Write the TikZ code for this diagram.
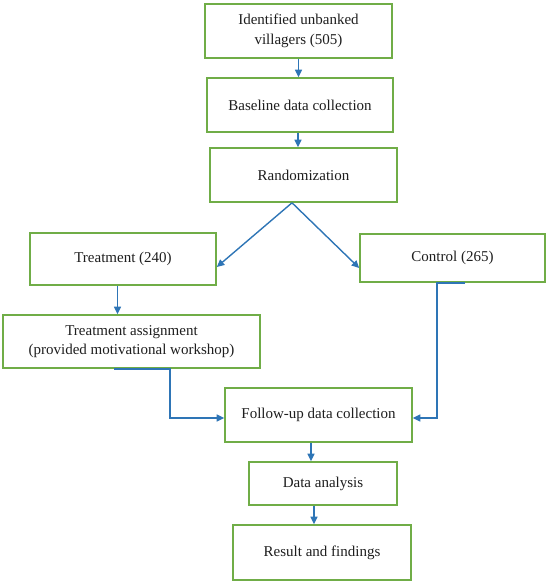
\documentclass[tikz,border=0pt]{standalone}
\usepackage{fontspec}
\setmainfont{Liberation Serif}
\usetikzlibrary{arrows.meta}
\definecolor{boxgreen}{HTML}{70AD47}
\definecolor{arrblue}{HTML}{2E75B6}
\definecolor{txt}{HTML}{1E1E1E}
\tikzset{
  box/.style={draw=boxgreen, line width=1.6pt, fill=white, align=center, text=txt,
    inner sep=0pt, font=\fontsize{15}{19.5}\selectfont},
  arr/.style={draw=arrblue, line width=1.4pt, -{Triangle[length=7.5pt,width=7pt]}},
}
\begin{document}
\begin{tikzpicture}[x=1pt,y=1pt]
\useasboundingbox (0,0) rectangle (550,-584);
\node[box, minimum width=187pt, minimum height=54pt] (b1) at (298.5,-31) {Identified unbanked\\villagers (505)};
\node[box, minimum width=186pt, minimum height=54pt] (b2) at (300,-105) {Baseline data collection};
\node[box, minimum width=187pt, minimum height=54pt] (b3) at (303.5,-175) {Randomization};
\node[box, minimum width=186pt, minimum height=52pt] (treat) at (123,-259) {Treatment (240)};
\node[box, minimum width=185pt, minimum height=48pt] (ctrl) at (452.5,-258) {Control (265)};
\node[box, minimum width=257pt, minimum height=53pt] (assign) at (131.5,-341.5) {Treatment assignment\\(provided motivational workshop)};
\node[box, minimum width=187pt, minimum height=54pt] (follow) at (318.5,-415) {Follow-up data collection};
\node[box, minimum width=148pt, minimum height=43pt] (data) at (323,-483.5) {Data analysis};
\node[box, minimum width=178pt, minimum height=55pt] (res) at (322,-552.5) {Result and findings};

\coordinate (apex) at ([xshift=-11.5pt]b3.south);
\draw[arr] (b1.south) -- (b1.south |- b2.north);
\draw[arr] ([xshift=-2pt]b2.south) -- ([xshift=-2pt]b2.south |- b3.north);
\draw[arr] (apex) -- ([yshift=-8pt]treat.east);
\draw[arr] (apex) -- ([yshift=-10pt]ctrl.west);
\draw[arr] ([xshift=-5.5pt]treat.south) -- ([xshift=-5.5pt]treat.south |- assign.north);
\draw[arr] ([xshift=-17.5pt]assign.south) -- ++(56,0) |- ([yshift=-3pt]follow.west);
\draw[arr] ([xshift=12.5pt]ctrl.south) -- ++(-28,0) |- ([yshift=-3pt]follow.east);
\draw[arr] ([xshift=-7.5pt]follow.south) -- ([xshift=-7.5pt]follow.south |- data.north);
\draw[arr] ([xshift=-9pt]data.south) -- ([xshift=-9pt]data.south |- res.north);
\end{tikzpicture}
\end{document}
